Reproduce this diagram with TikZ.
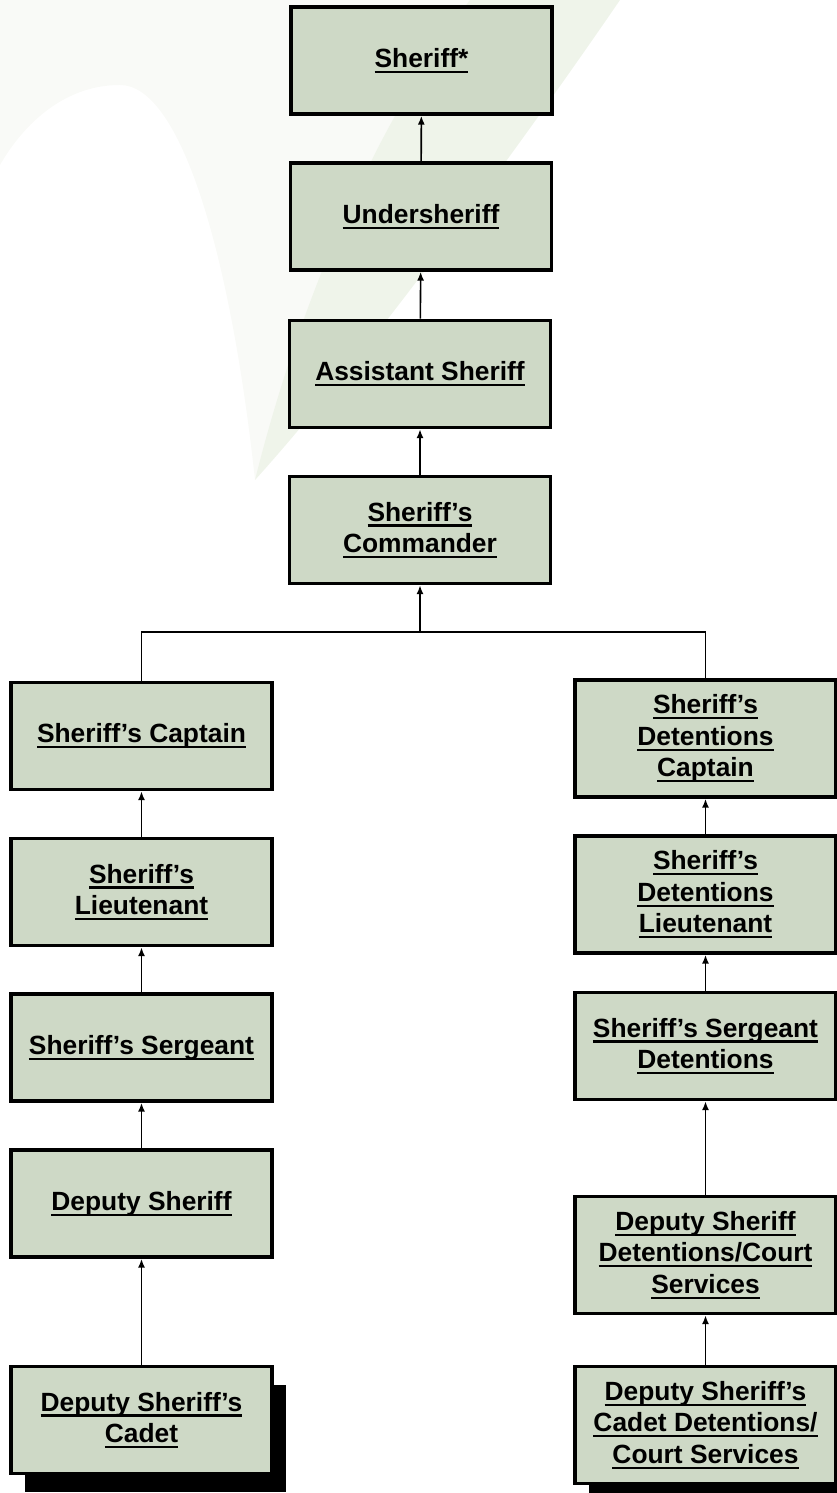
\documentclass[tikz,border=0pt]{standalone}
\usepackage{fontspec}
\setmainfont{Liberation Sans}
\usetikzlibrary{arrows.meta}
\usetikzlibrary{shadows}

\definecolor{rankfill}{RGB}{206,217,198}
\definecolor{swooshlight}{RGB}{249,250,247}
\definecolor{swooshdark}{RGB}{239,244,234}

% underlined title line
\newcommand{\rankul}[1]{\setbox0\hbox{#1}\rlap{\rule[-3.2pt]{\wd0}{1.3pt}}\box0}

\begin{document}
\begin{tikzpicture}[font=\fontsize{15}{17.9}\selectfont\bfseries,
    % styles
    rank/.style={draw=black,line width=2.1pt,fill=rankfill,align=center,
      minimum width=5.22cm,minimum height=2.14cm,inner sep=0pt},
    tall rank/.style={rank,minimum height=2.34cm},
    cadet rank/.style={drop shadow={shadow xshift=0.27cm,shadow yshift=-0.36cm,
      fill=black,opacity=1}},
    report/.style={line width=0.9pt,-{Latex[length=5pt,width=4pt]}},
    branch/.style={line width=0.9pt}]

  \useasboundingbox (0,0) rectangle (16.72,-29.86);

  % background swoosh
  \fill[swooshlight] (0,0) -- (9.4,0) -- (5.1,-9.6)
    .. controls (4.6,-5) and (3.6,-1.7) .. (2.4,-1.7)
    .. controls (1.2,-1.7) and (0.4,-2.6) .. (0,-3.3) -- cycle;
  \fill[swooshdark] (9.4,0) -- (12.4,0)
    .. controls (10,-3.5) and (7,-7.5) .. (5.1,-9.6)
    .. controls (6,-6) and (7.5,-2.5) .. (9.4,0) -- cycle;

  % command staff
  \node[rank] (sheriff) at (8.43,-1.21) {\rankul{Sheriff*}};
  \node[rank] (under) at (8.42,-4.33) {\rankul{Undersheriff}};
  \node[rank] (asst) at (8.40,-7.48) {\rankul{Assistant Sheriff}};
  \node[rank] (cmdr) at (8.40,-10.60) {\rankul{Sheriff’s}\\\rankul{Commander}};

  % patrol column
  \node[rank] (capt) at (2.83,-14.72) {\rankul{Sheriff’s Captain}};
  \node[rank] (lieut) at (2.83,-17.84) {\rankul{Sheriff’s}\\\rankul{Lieutenant}};
  \node[rank] (sgt) at (2.83,-20.95) {\rankul{Sheriff’s Sergeant}};
  \node[rank] (deputy) at (2.83,-24.07) {\rankul{Deputy Sheriff}};
  \node[rank,cadet rank] (cadet) at (2.83,-28.40)
    {\rankul{Deputy Sheriff’s}\\\rankul{Cadet}};

  % detentions column
  \node[tall rank] (dcapt) at (14.11,-14.77)
    {\rankul{Sheriff’s}\\\rankul{Detentions}\\\rankul{Captain}};
  \node[tall rank] (dlieut) at (14.11,-17.89)
    {\rankul{Sheriff’s}\\\rankul{Detentions}\\\rankul{Lieutenant}};
  \node[rank] (dsgt) at (14.11,-20.92)
    {\rankul{Sheriff’s Sergeant}\\\rankul{Detentions}};
  \node[tall rank] (ddeputy) at (14.11,-25.10)
    {\rankul{Deputy Sheriff}\\\rankul{Detentions/Court}\\\rankul{Services}};
  \node[tall rank,cadet rank] (dcadet) at (14.11,-28.50)
    {\rankul{Deputy Sheriff’s}\\\rankul{Cadet Detentions/}\\\rankul{Court Services}};

  % reporting lines
  \draw[report] (under) -- (sheriff);
  \draw[report] (asst) -- (under);
  \draw[report] (cmdr) -- (asst);
  \draw[report] (cmdr.south |- 0,-12.64) coordinate (split) -- (cmdr);
  \draw[branch] (capt.north) |- (split) -| (dcapt.north);
  \foreach \src/\dst in {lieut/capt,sgt/lieut,deputy/sgt,cadet/deputy,
      dlieut/dcapt,dsgt/dlieut,ddeputy/dsgt,dcadet/ddeputy}
    \draw[report] (\src) -- (\dst);

\end{tikzpicture}
\end{document}
